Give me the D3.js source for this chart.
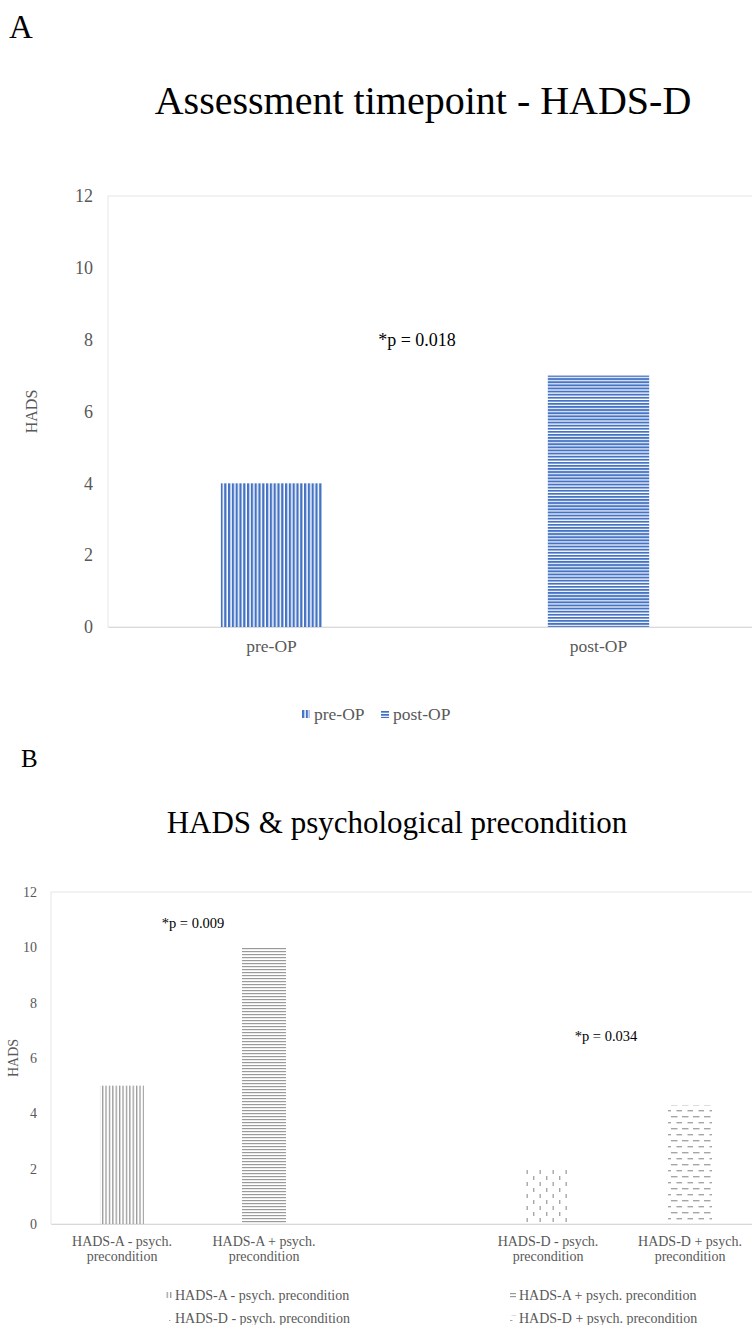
<!DOCTYPE html>
<html>
<head>
<meta charset="utf-8">
<script src="https://cdn.jsdelivr.net/npm/d3@7"></script>
<style>
  body { margin: 0; background: #fff; }
  svg { display: block; font-family: "Liberation Serif", "Times New Roman", serif; }
  .tick text { fill: #595959; }
</style>
</head>
<body>
<div id="chart"></div>
<script>
// panel A data
var catsA = ["pre-OP", "post-OP"];
var valsA = [4, 7];
var pA = "*p = 0.018";

// panel B data ("" is the empty slot between the two groups)
var catsB = ["HADS-A - psych.|precondition", "HADS-A + psych.|precondition", "",
             "HADS-D - psych.|precondition", "HADS-D + psych.|precondition"];
var valsB = [5, 10, null, 2, 4.3];
var legendB = ["HADS-A - psych. precondition", "HADS-A + psych. precondition",
               "HADS-D - psych. precondition", "HADS-D + psych. precondition"];
var pB = ["*p = 0.009", "*p = 0.034"];

var yTicks = [0, 2, 4, 6, 8, 10, 12];

var W = 752, H = 1325;

var svg = d3.select("#chart").append("svg")
    .attr("width", W)
    .attr("height", H);

var defs = svg.append("defs");

// fill patterns
function stripes(id, vertical, period, thick, color) {
  var p = defs.append("pattern")
      .attr("id", id)
      .attr("patternUnits", "userSpaceOnUse")
      .attr("width", vertical ? period : 10)
      .attr("height", vertical ? 10 : period);
  p.append("rect")
      .attr("width", vertical ? thick : 10)
      .attr("height", vertical ? 10 : thick)
      .attr("fill", color);
}
function dashes(id, vertical, color) {
  var p = defs.append("pattern")
      .attr("id", id)
      .attr("patternUnits", "userSpaceOnUse");
  if (vertical) {
    p.attr("width", 13).attr("height", 12);
    p.append("rect").attr("x", 0).attr("y", 0).attr("width", 1.4).attr("height", 4).attr("fill", color);
    p.append("rect").attr("x", 6.5).attr("y", 6).attr("width", 1.4).attr("height", 4).attr("fill", color);
  } else {
    p.attr("width", 11).attr("height", 12);
    p.append("rect").attr("x", 0).attr("y", 0).attr("width", 6.5).attr("height", 1.4).attr("fill", color);
    p.append("rect").attr("x", 5.5).attr("y", 6).attr("width", 6.5).attr("height", 1.4).attr("fill", color);
  }
}
stripes("patA0", true, 3.8, 2.3, "#4472c4");
stripes("patA1", false, 3.1, 1.9, "#4472c4");
stripes("patB0", true, 3.4, 1.3, "#9a9a9a");
stripes("patB1", false, 3.0, 1.2, "#9a9a9a");
dashes("patB3", true, "#a6a6a6");
dashes("patB4", false, "#a6a6a6");

// ---------- panel A ----------
svg.append("text").attr("x", 9).attr("y", 38)
    .style("font-size", "33px").text("A");
svg.append("text").attr("x", 423).attr("y", 114)
    .attr("text-anchor", "middle")
    .style("font-size", "40px").text("Assessment timepoint - HADS-D");

var xA = d3.scaleBand().domain(catsA).range([108, 762]).paddingInner(0.69).paddingOuter(0.345);
var yA = d3.scaleLinear().domain([0, 12]).range([627, 196]);

svg.append("rect")
    .attr("x", xA.range()[0]).attr("y", yA(12))
    .attr("width", xA.range()[1] - xA.range()[0]).attr("height", yA(0) - yA(12))
    .attr("fill", "none").attr("stroke", "#e6e6e6");

var gyA = svg.append("g")
    .attr("transform", "translate(" + xA.range()[0] + ",0)")
    .call(d3.axisLeft(yA).tickValues(yTicks).tickSize(0).tickPadding(15));
gyA.select(".domain").remove();
gyA.selectAll("text").style("font-size", "18px").style("font-family", "Liberation Serif");

var gxA = svg.append("g")
    .attr("transform", "translate(0," + yA(0) + ")")
    .call(d3.axisBottom(xA).tickSize(0).tickSizeOuter(0).tickPadding(13));
gxA.select(".domain").attr("stroke", "#d9d9d9");
gxA.selectAll("text").style("font-size", "17.5px").style("font-family", "Liberation Serif");

svg.selectAll(".barA")
    .data(catsA)
  .enter().append("rect")
    .attr("class", "barA")
    .attr("x", function(d){ return xA(d); })
    .attr("y", function(d, i){ return yA(valsA[i]); })
    .attr("width", xA.bandwidth())
    .attr("height", function(d, i){ return yA(0) - yA(valsA[i]); })
    .attr("fill", function(d, i){ return "url(#patA" + i + ")"; });

svg.append("text")
    .attr("x", (xA(catsA[0]) + xA(catsA[1]) + xA.bandwidth()) / 2 - 18)
    .attr("y", yA(8))
    .attr("dy", "0.35em")
    .attr("text-anchor", "middle")
    .style("font-size", "18px").text(pA);

svg.append("text")
    .attr("transform", "translate(37," + (yA(6)) + ") rotate(-90)")
    .attr("text-anchor", "middle")
    .style("font-size", "16px").attr("fill", "#595959").text("HADS");

// legend A
var legA = svg.append("g").attr("transform", "translate(302,714)");
var legAx = [0, 79];
catsA.forEach(function(c, i){
  legA.append("rect").attr("x", legAx[i]).attr("y", -4).attr("width", 8).attr("height", 8)
      .attr("fill", "url(#patA" + i + ")");
  legA.append("text").attr("x", legAx[i] + 12).attr("dy", "0.35em")
      .style("font-size", "17.5px").attr("fill", "#595959").text(c);
});

// ---------- panel B ----------
svg.append("text").attr("x", 21).attr("y", 767)
    .style("font-size", "25px").text("B");
svg.append("text").attr("x", 397).attr("y", 833)
    .attr("text-anchor", "middle")
    .style("font-size", "31px").text("HADS & psychological precondition");

var xB = d3.scaleBand().domain(catsB).range([51, 761]).paddingInner(0.69).paddingOuter(0.345);
var yB = d3.scaleLinear().domain([0, 12]).range([1224, 892]);

svg.append("rect")
    .attr("x", xB.range()[0]).attr("y", yB(12))
    .attr("width", xB.range()[1] - xB.range()[0]).attr("height", yB(0) - yB(12))
    .attr("fill", "none").attr("stroke", "#e6e6e6");

var gyB = svg.append("g")
    .attr("transform", "translate(" + xB.range()[0] + ",0)")
    .call(d3.axisLeft(yB).tickValues(yTicks).tickSize(0).tickPadding(14));
gyB.select(".domain").remove();
gyB.selectAll("text").style("font-size", "14px").style("font-family", "Liberation Serif");

var gxB = svg.append("g")
    .attr("transform", "translate(0," + yB(0) + ")")
    .call(d3.axisBottom(xB).tickSize(0).tickSizeOuter(0).tickFormat(""));
gxB.select(".domain").attr("stroke", "#d9d9d9");
gxB.selectAll(".tick").each(function(d){
  var lines = d.split("|");
  var t = d3.select(this).append("text")
      .attr("text-anchor", "middle")
      .attr("fill", "#595959")
      .style("font-size", "14px")
      .style("font-family", "Liberation Serif");
  lines.forEach(function(l, k){
    t.append("tspan").attr("x", 0).attr("y", 22 + k * 15).text(l);
  });
});

var patB = ["patB0", "patB1", null, "patB3", "patB4"];
svg.selectAll(".barB")
    .data(catsB.filter(function(d, i){ return valsB[i] != null; }))
  .enter().append("rect")
    .attr("class", "barB")
    .attr("x", function(d){ return xB(d); })
    .attr("y", function(d){ return yB(valsB[catsB.indexOf(d)]); })
    .attr("width", xB.bandwidth())
    .attr("height", function(d){ return yB(0) - yB(valsB[catsB.indexOf(d)]); })
    .attr("fill", function(d){ return "url(#" + patB[catsB.indexOf(d)] + ")"; });

// significance notes
var pBpos = [[(xB(catsB[0]) + xB(catsB[1]) + xB.bandwidth()) / 2, 10.9],
             [(xB(catsB[3]) + xB(catsB[4]) + xB.bandwidth()) / 2 - 13, 6.8]];
pB.forEach(function(t, i){
  svg.append("text")
      .attr("x", pBpos[i][0]).attr("y", yB(pBpos[i][1]))
      .attr("dy", "0.35em").attr("text-anchor", "middle")
      .style("font-size", "14.5px").text(t);
});

svg.append("text")
    .attr("transform", "translate(18," + yB(6) + ") rotate(-90)")
    .attr("text-anchor", "middle")
    .style("font-size", "14px").attr("fill", "#595959").text("HADS");

// legend B
var legB = svg.append("g");
var legBpatterns = ["patB0", "patB1", "patB3", "patB4"];
legendB.forEach(function(t, i){
  var gx = i % 2 === 0 ? 166 : 510, gy = i < 2 ? 1295 : 1318;
  legB.append("rect").attr("x", gx).attr("y", gy - 3).attr("width", 6).attr("height", 6)
      .attr("fill", "url(#" + legBpatterns[i] + ")");
  legB.append("text").attr("x", gx + 9).attr("y", gy).attr("dy", "0.35em")
      .style("font-size", "14px").attr("fill", "#595959").text(t);
});
</script>
</body>
</html>
